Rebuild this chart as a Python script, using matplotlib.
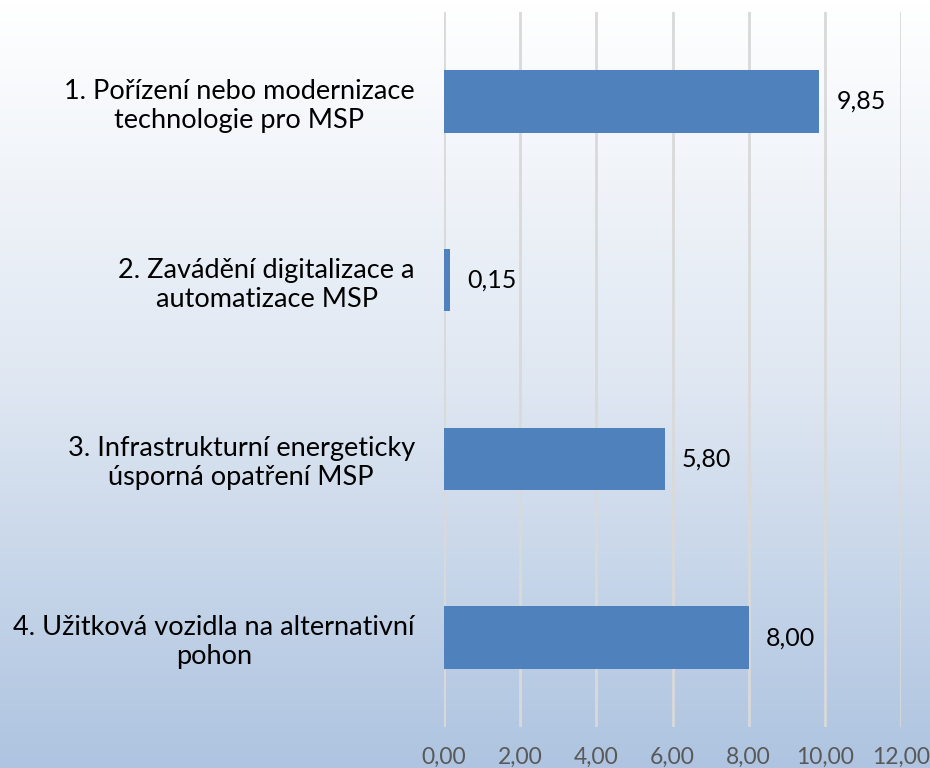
import matplotlib.pyplot as plt
import numpy as np
from matplotlib.colors import LinearSegmentedColormap

categories = ["1. Pořízení nebo modernizace\ntechnologie pro MSP",
              "2. Zavádění digitalizace a\nautomatizace MSP",
              "3. Infrastrukturní energeticky\núsporná opatření MSP",
              "4. Užitková vozidla na alternativní\npohon"]
values = [9.85, 0.15, 5.80, 8.00]
xticks = [0, 2, 4, 6, 8, 10, 12]

plt.rcParams['font.family'] = ['Lato', 'DejaVu Sans']

fig = plt.figure(figsize=(9.3, 7.68), dpi=100)

# gradient background
bg = fig.add_axes([0, 0, 1, 1], zorder=0)
grad = np.linspace(0, 1, 256).reshape(-1, 1)
cmap = LinearSegmentedColormap.from_list('bg', ['#ffffff', '#dfe7f2', '#aec4e0'])
bg.imshow(grad, aspect='auto', cmap=cmap, extent=[0, 1, 0, 1])
bg.axis('off')

ax = fig.add_axes([444 / 930, (768 - 727) / 768, (901 - 444) / 930, (727 - 12) / 768], zorder=1)
ax.patch.set_alpha(0)

y = np.arange(len(categories))
ax.barh(y, values, height=0.35, color='#4f81bd', zorder=3)
for yi, v in zip(y, values):
    ax.text(v + 0.45, yi, f"{v:.2f}".replace('.', ','), va='center', ha='left',
            fontsize=18, color='black')

ax.set_xlim(0, 12)
ax.set_ylim(len(categories) - 0.5, -0.5)
ax.set_xticks(xticks)
ax.set_xticklabels([f"{t:.2f}".replace('.', ',') for t in xticks], fontsize=16.5, color='#595959')
ax.set_yticks(y)
ax.set_yticklabels(categories, fontsize=19.5, color='black', ha='right',
                   multialignment='center', linespacing=1.2)
ax.tick_params(axis='y', length=0, pad=21)
ax.tick_params(axis='x', length=0, pad=14)
ax.grid(axis='x', color='#d9d9d9', linewidth=2, zorder=0)
for s in ax.spines.values():
    s.set_visible(False)

fig.savefig('out.png', dpi=100)
